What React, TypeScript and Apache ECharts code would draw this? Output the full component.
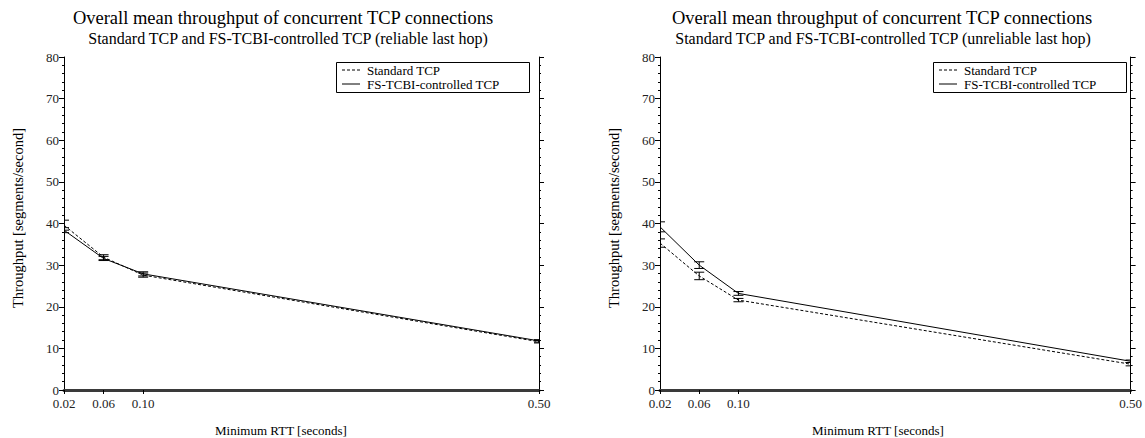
import React, { useEffect, useRef } from "react";
import * as echarts from "echarts";

const rtt = [0.02, 0.06, 0.1, 0.5];
const xTickValues = [0.02, 0.06, 0.1, 0.5];

const relStdMean = [39.6, 31.9, 27.6, 11.6];
const relStdErr = [1.2, 0.6, 0.5, 0.3];
const relFsMean = [38.4, 31.6, 27.9, 11.8];
const relFsErr = [0.6, 0.5, 0.5, 0.3];

const unrStdMean = [35.3, 27.4, 21.6, 6.2];
const unrStdErr = [1.0, 0.9, 0.4, 0.4];
const unrFsMean = [39.2, 30.0, 23.2, 6.9];
const unrFsErr = [1.2, 0.8, 0.45, 0.3];

const titleText = "Overall mean throughput of concurrent TCP connections";
const subtitles = [
  "Standard TCP and FS-TCBI-controlled TCP (reliable last hop)",
  "Standard TCP and FS-TCBI-controlled TCP (unreliable last hop)",
];
const xName = "Minimum RTT [seconds]";
const yName = "Throughput [segments/second]";
const seriesNames = ["Standard TCP", "FS-TCBI-controlled TCP"];

const FONT = "'Liberation Serif', 'DejaVu Serif', serif";

function errSeries(gi: number, mean: number[], err: number[]) {
  return {
    type: "custom",
    xAxisIndex: gi,
    yAxisIndex: gi * 2,
    clip: true,
    silent: true,
    z: 3,
    data: rtt.map((x, i) => [x, mean[i] - err[i], mean[i] + err[i]]),
    renderItem: (params: any, api: any) => {
      const lo = api.coord([api.value(0), api.value(1)]);
      const hi = api.coord([api.value(0), api.value(2)]);
      const w = 5;
      const style = { stroke: "#000", lineWidth: 1 };
      return {
        type: "group",
        children: [
          { type: "line", shape: { x1: lo[0], y1: lo[1], x2: hi[0], y2: hi[1] }, style },
          { type: "line", shape: { x1: lo[0] - w, y1: lo[1], x2: lo[0] + w, y2: lo[1] }, style },
          { type: "line", shape: { x1: hi[0] - w, y1: hi[1], x2: hi[0] + w, y2: hi[1] }, style },
        ],
      };
    },
  };
}

function lineSeries(gi: number, name: string, mean: number[], dashed: boolean) {
  return {
    type: "line",
    name,
    xAxisIndex: gi,
    yAxisIndex: gi * 2,
    symbol: "none",
    z: 4,
    lineStyle: { color: "#000", width: 1, type: dashed ? [3, 2] : "solid" },
    itemStyle: { color: "#000" },
    data: rtt.map((x, i) => [x, mean[i]]),
  };
}

export default function App() {
  const ref = useRef<HTMLDivElement>(null);
  useEffect(() => {
    const chart = echarts.init(ref.current!, null, { renderer: "svg" });
    const grids = [
      { left: 64, right: 1145 - 539, top: 57, bottom: 438 - 390 },
      { left: 660, right: 1145 - 1133, top: 57, bottom: 438 - 390 },
    ];
    const xAxes = grids.map((_, gi) => ({
      type: "value",
      gridIndex: gi,
      min: 0.02,
      max: 0.5,
      axisLine: { show: true, lineStyle: { color: "#3a3a3a", width: 3 } },
      axisTick: {
        show: true,
        customValues: xTickValues,
        length: 4,
        lineStyle: { color: "#000", width: 1 },
      },
      axisLabel: {
        customValues: xTickValues,
        formatter: (v: number) => v.toFixed(2),
        color: "#222",
        fontFamily: FONT,
        fontSize: 13,
        margin: 7,
      },
      splitLine: { show: false },
    }));
    const yAxes: any[] = [];
    grids.forEach((_, gi) => {
      yAxes.push({
        type: "value",
        gridIndex: gi,
        position: "left",
        min: 0,
        max: 80,
        interval: 10,
        axisLine: { show: true, lineStyle: { color: "#000", width: 1 } },
        axisTick: { show: true, length: 5, lineStyle: { color: "#000" } },
        minorTick: { show: true, splitNumber: 5, length: 2, lineStyle: { color: "#000" } },
        axisLabel: { color: "#222", fontFamily: FONT, fontSize: 13, margin: 5 },
        splitLine: { show: false },
      });
      yAxes.push({
        type: "value",
        gridIndex: gi,
        position: "right",
        min: 0,
        max: 80,
        interval: 10,
        axisLine: { show: true, lineStyle: { color: "#000", width: 1 } },
        axisTick: { show: true, length: 5, lineStyle: { color: "#000" } },
        minorTick: { show: true, splitNumber: 5, length: 2, lineStyle: { color: "#000" } },
        axisLabel: { show: false },
        splitLine: { show: false },
      });
    });

    const titleX = [283, 882];
    const subX = [288, 883];
    const xNameX = [281, 878];
    const yNameX = [18, 614];
    const legendLeft = [336, 933];
    const graphics: any[] = [];
    [0, 1].forEach((gi) => {
      graphics.push({
        type: "text",
        x: titleX[gi],
        y: 18,
        style: { text: titleText, font: `18.5px ${FONT}`, fill: "#000", align: "center", verticalAlign: "middle" },
      });
      graphics.push({
        type: "text",
        x: subX[gi],
        y: 38,
        style: { text: subtitles[gi], font: `16px ${FONT}`, fill: "#000", align: "center", verticalAlign: "middle" },
      });
      graphics.push({
        type: "text",
        x: xNameX[gi],
        y: 430,
        style: { text: xName, font: `13px ${FONT}`, fill: "#000", align: "center", verticalAlign: "middle" },
      });
      graphics.push({
        type: "text",
        x: yNameX[gi],
        y: 218,
        rotation: Math.PI / 2,
        style: { text: yName, font: `14.5px ${FONT}`, fill: "#000", align: "center", verticalAlign: "middle" },
      });
      const lx = legendLeft[gi];
      graphics.push({
        type: "rect",
        shape: { x: lx + 0.5, y: 62.5, width: 193, height: 30 },
        style: { fill: "#fff", stroke: "#000", lineWidth: 1 },
        z: 10,
      });
      seriesNames.forEach((nm, k) => {
        const yy = 70 + k * 14;
        graphics.push({
          type: "line",
          shape: { x1: lx + 6, y1: yy, x2: lx + 24, y2: yy },
          style: { stroke: "#000", lineWidth: 1, lineDash: k === 0 ? [3, 2] : null },
          z: 11,
        });
        graphics.push({
          type: "text",
          x: lx + 31,
          y: yy,
          style: { text: nm, font: `13px ${FONT}`, fill: "#000", align: "left", verticalAlign: "middle" },
          z: 11,
        });
      });
    });

    chart.setOption({
      animation: false,
      backgroundColor: "#fff",
      grid: grids,
      xAxis: xAxes,
      yAxis: yAxes,
      series: [
        lineSeries(0, seriesNames[0], relStdMean, true),
        lineSeries(0, seriesNames[1], relFsMean, false),
        errSeries(0, relStdMean, relStdErr),
        errSeries(0, relFsMean, relFsErr),
        lineSeries(1, seriesNames[0], unrStdMean, true),
        lineSeries(1, seriesNames[1], unrFsMean, false),
        errSeries(1, unrStdMean, unrStdErr),
        errSeries(1, unrFsMean, unrFsErr),
      ],
      graphic: graphics,
    });
    return () => chart.dispose();
  }, []);
  return (
    <div
      ref={ref}
      style={{ position: "fixed", left: 0, top: 0, width: 1145, height: 438 }}
    />
  );
}
